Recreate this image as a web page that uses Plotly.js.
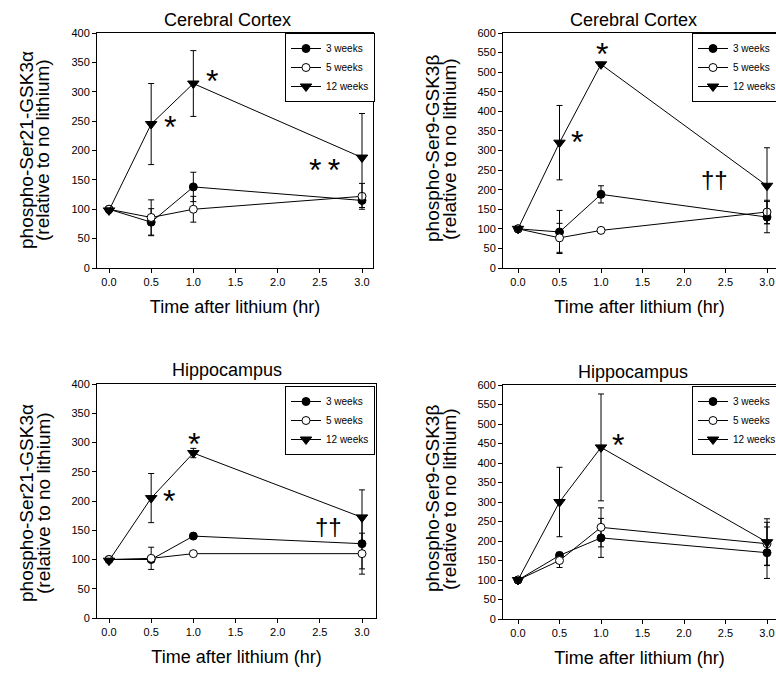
<!DOCTYPE html>
<html><head><meta charset="utf-8">
<script src="https://cdn.plot.ly/plotly-3.0.1.min.js"></script>
<style>html,body{margin:0;padding:0;background:#fff}#chart{width:776px;height:673px}</style>
</head><body><div id="chart"></div>
<script>
// ---- data ----
const hours = [0, 0.5, 1.0, 3.0];
const seriesNames = ['3 weeks', '5 weeks', '12 weeks'];
const xTickVals = [0, 0.5, 1.0, 1.5, 2.0, 2.5, 3.0];
const xTickText = ['0.0', '0.5', '1.0', '1.5', '2.0', '2.5', '3.0'];
const panelTitles = ['Cerebral Cortex', 'Cerebral Cortex', 'Hippocampus', 'Hippocampus'];
const yTitleLine1 = ['phospho-Ser21-GSK3α', 'phospho-Ser9-GSK3β', 'phospho-Ser21-GSK3α', 'phospho-Ser9-GSK3β'];
const yTitleLine2 = '(relative to no lithium)';
const xTitle = 'Time after lithium (hr)';

// Cerebral cortex, Ser21-GSK3alpha
const cortexA_3wk = [100, 78, 138, 115];
const cortexA_3wk_err = [4, 23, 25, 12];
const cortexA_5wk = [100, 86, 100, 122];
const cortexA_5wk_err = [4, 30, 22, 22];
const cortexA_12wk = [98, 245, 314, 188];
const cortexA_12wk_err = [4, 69, 56, 75];

// Cerebral cortex, Ser9-GSK3beta
const cortexB_3wk = [100, 92, 188, 130];
const cortexB_3wk_err = [5, 55, 22, 40];
const cortexB_5wk = [100, 77, 96, 143];
const cortexB_5wk_err = [5, 37, 5, 30];
const cortexB_12wk = [100, 320, 520, 210];
const cortexB_12wk_err = [5, 95, 5, 97];

// Hippocampus, Ser21-GSK3alpha
const hippoA_3wk = [100, 100, 140, 127];
const hippoA_3wk_err = [3, 5, 4, 43];
const hippoA_5wk = [100, 102, 110, 110];
const hippoA_5wk_err = [3, 19, 4, 35];
const hippoA_12wk = [98, 205, 282, 172];
const hippoA_12wk_err = [3, 42, 8, 47];

// Hippocampus, Ser9-GSK3beta
const hippoB_3wk = [100, 163, 208, 170];
const hippoB_3wk_err = [5, 8, 50, 66];
const hippoB_5wk = [100, 150, 235, 193];
const hippoB_5wk_err = [5, 18, 50, 55];
const hippoB_12wk = [100, 300, 440, 197];
const hippoB_12wk_err = [5, 89, 137, 60];

// significance marks [panel, x, y, text]
const sigPanel = [0, 0, 0, 1, 1, 1, 2, 2, 2, 3];
const sigX = [0.72, 1.22, 2.56, 1.01, 0.71, 2.37, 0.71, 1.01, 2.6, 1.2];
const sigY = [247, 325, 174, 557, 332, 227, 207, 304, 156, 456];
const sigText = ['*', '*', '*\u2009*', '*', '*', '††', '*', '*', '††', '*'];

// ---- layout geometry (pixels) ----
const W = 776, H = 673;
const panels = [
  {l: 97, r: 373, t: 33, b: 268, x0: 109, x3: 362, ymax: 400,
   series: [[cortexA_3wk, cortexA_3wk_err], [cortexA_5wk, cortexA_5wk_err], [cortexA_12wk, cortexA_12wk_err]],
   title: [227, 20], yt: [26, 42, 150], leg: [285, 33]},
  {l: 503, r: 776, t: 33, b: 268, x0: 518, x3: 767, ymax: 600,
   series: [[cortexB_3wk, cortexB_3wk_err], [cortexB_5wk, cortexB_5wk_err], [cortexB_12wk, cortexB_12wk_err]],
   title: [633, 20], yt: [432, 449, 149], leg: [692, 33]},
  {l: 97, r: 376, t: 384, b: 618, x0: 109, x3: 362, ymax: 400,
   series: [[hippoA_3wk, hippoA_3wk_err], [hippoA_5wk, hippoA_5wk_err], [hippoA_12wk, hippoA_12wk_err]],
   title: [227, 370], yt: [26, 43, 503], leg: [285, 386]},
  {l: 503, r: 776, t: 385, b: 619, x0: 518, x3: 767, ymax: 600,
   series: [[hippoB_3wk, hippoB_3wk_err], [hippoB_5wk, hippoB_5wk_err], [hippoB_12wk, hippoB_12wk_err]],
   title: [633, 372], yt: [432, 449, 499], leg: [692, 386]}
];

const FONT = 'Liberation Sans, Arial, sans-serif';
const markerStyles = [
  {symbol: 'circle', size: 8, color: 'black', line: {color: 'black', width: 1}},
  {symbol: 'circle', size: 8, color: 'white', line: {color: 'black', width: 1}},
  {symbol: 'triangle-down', size: 10, color: 'black', line: {color: 'black', width: 1}}
];

const px = x => x / W;
const py = y => 1 - y / H;

const traces = [];
const layout = {
  width: W, height: H,
  margin: {l: 0, r: 0, t: 0, b: 0, autoexpand: false},
  paper_bgcolor: 'white', plot_bgcolor: 'white',
  font: {family: FONT, color: 'black', size: 11},
  showlegend: true,
  annotations: []
};

panels.forEach((p, i) => {
  const n = i === 0 ? '' : String(i + 1);
  const xa = 'xaxis' + n, ya = 'yaxis' + n;
  const legName = 'legend' + n;
  const ppu = (p.x3 - p.x0) / 3;
  const xr = [(p.l - p.x0) / ppu, (p.r - p.x0) / ppu];
  p.series.forEach((s, k) => {
    traces.push({
      x: hours, y: s[0], type: 'scatter', mode: 'lines+markers',
      name: seriesNames[k],
      xaxis: 'x' + n, yaxis: 'y' + n, legend: legName,
      line: {color: 'black', width: 1},
      marker: markerStyles[k],
      error_y: {type: 'data', array: s[1], visible: true, color: 'black', thickness: 1, width: 3},
      cliponaxis: false
    });
  });
  layout[xa] = {
    domain: [px(p.l), px(p.r)], range: xr, anchor: 'y' + n,
    showline: true, mirror: true, linecolor: 'black', linewidth: 1,
    showgrid: false, zeroline: false,
    ticks: 'outside', ticklen: 4, tickcolor: 'black',
    tickvals: xTickVals, ticktext: xTickText,
    tickfont: {family: FONT, size: 11, color: 'black'},
    title: {text: xTitle, font: {family: FONT, size: 18, color: 'black'}, standoff: 13}
  };
  layout[ya] = {
    domain: [py(p.b), py(p.t)], range: [0, p.ymax], anchor: 'x' + n,
    showline: true, mirror: true, linecolor: 'black', linewidth: 1,
    showgrid: false, zeroline: false,
    ticks: 'outside', ticklen: 4, tickcolor: 'black', dtick: 50,
    tickfont: {family: FONT, size: 11, color: 'black'}
  };
  layout[legName] = {
    x: px(p.leg[0]), y: py(p.leg[1]), xref: 'paper', yref: 'paper',
    xanchor: 'left', yanchor: 'top',
    bgcolor: 'white', bordercolor: 'black', borderwidth: 1,
    font: {family: FONT, size: 10, color: 'black'},
    itemwidth: 30, tracegroupgap: 0
  };
  // panel title
  layout.annotations.push({text: panelTitles[i], xref: 'paper', yref: 'paper',
    x: px(p.title[0]), y: py(p.title[1]), xanchor: 'center', yanchor: 'middle',
    showarrow: false, font: {family: FONT, size: 18, color: 'black'}});
  // y title (two lines)
  layout.annotations.push({text: yTitleLine1[i], xref: 'paper', yref: 'paper',
    x: px(p.yt[0]), y: py(p.yt[2]), xanchor: 'center', yanchor: 'middle', textangle: -90,
    showarrow: false, font: {family: FONT, size: 19, color: 'black'}});
  layout.annotations.push({text: yTitleLine2, xref: 'paper', yref: 'paper',
    x: px(p.yt[1]), y: py(p.yt[2]), xanchor: 'center', yanchor: 'middle', textangle: -90,
    showarrow: false, font: {family: FONT, size: 19, color: 'black'}});
});

sigPanel.forEach((pi, j) => {
  const n = pi === 0 ? '' : String(pi + 1);
  const isDagger = sigText[j].indexOf('†') >= 0;
  layout.annotations.push({text: sigText[j], xref: 'x' + n, yref: 'y' + n,
    x: sigX[j], y: sigY[j], xanchor: 'center', yanchor: 'middle', showarrow: false,
    yshift: isDagger ? 0 : -4,
    font: {family: FONT, size: isDagger ? 24 : 32, color: 'black'}});
});

Plotly.newPlot('chart', traces, layout, {staticPlot: true});
</script></body></html>
